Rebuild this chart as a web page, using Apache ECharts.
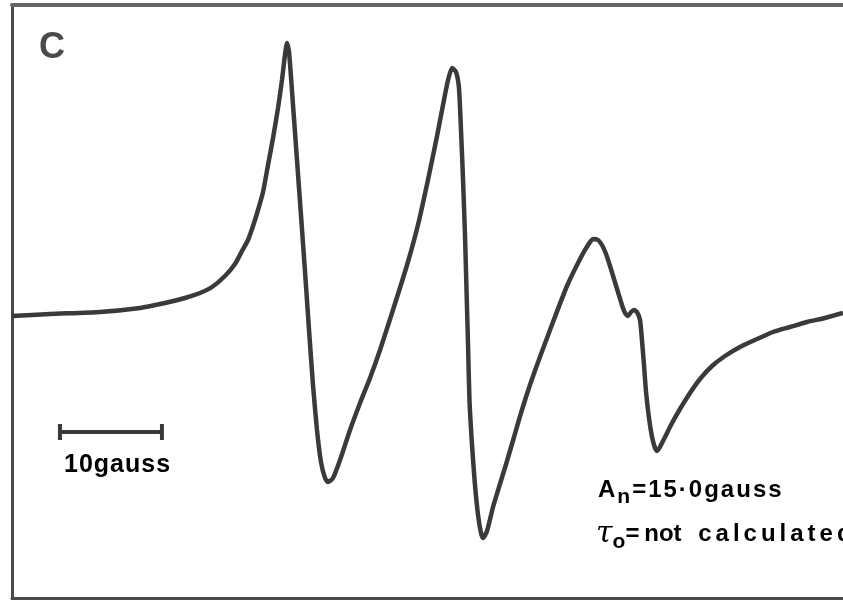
<!DOCTYPE html>
<html><head><meta charset="utf-8">
<script src="https://cdn.jsdelivr.net/npm/echarts@6/dist/echarts.min.js"></script>
<style>html,body{margin:0;padding:0;background:#fff}#c{width:843px;height:602px}</style>
</head><body><div id="c"></div>
<script>
// Magnetic field offset (gauss) and first-derivative EPR signal (arbitrary units)
const fieldG = [0, 3.73, 8.63, 12.55, 15.00, 16.96, 18.43, 19.61, 20.88, 21.86, 22.55, 23.14, 23.63, 24.12, 24.61, 25.10, 25.59, 26.08, 26.47, 26.76, 26.96, 27.16, 27.55, 27.94, 28.33, 28.73, 29.12, 29.51, 29.90, 30.29, 30.69, 30.98, 31.47, 32.16, 33.14, 34.12, 35.10, 36.08, 37.35, 38.73, 39.80, 40.78, 41.67, 42.35, 42.75, 43.14, 43.53, 43.82, 44.02, 44.22, 44.41, 44.56, 44.71, 44.85, 45.10, 45.39, 45.69, 45.98, 46.18, 46.57, 47.16, 47.84, 48.53, 49.22, 49.90, 50.78, 51.76, 53.04, 54.41, 55.69, 56.47, 56.96, 57.45, 57.84, 58.24, 58.63, 59.02, 59.41, 59.80, 60.10, 60.39, 60.69, 60.98, 61.27, 61.57, 61.76, 61.96, 62.16, 62.45, 62.75, 63.04, 63.24, 63.53, 64.02, 64.71, 65.49, 66.47, 67.45, 68.63, 69.90, 71.37, 73.04, 74.61, 76.27, 77.94, 79.71, 81.47];
const signal = [0, 2, 4, 8, 13, 18, 23, 29, 40, 52, 65, 76, 90, 106, 124, 151, 178, 208, 236, 261, 273, 264, 211, 156, 101, 44, -14, -69, -114, -146, -162, -166, -162, -144, -114, -87, -62, -34, 6, 51, 91, 136, 180, 216, 236, 248, 244, 228, 186, 136, 81, 26, -29, -84, -129, -169, -199, -217, -222, -215, -191, -168, -145, -121, -97, -69, -41, -6, 30, 57, 71, 77, 76, 71, 62, 50, 37, 24, 11, 3, 0, 4, 6, 4, -4, -24, -49, -76, -102, -121, -132, -135, -131, -121, -107, -93, -77, -63, -50, -40, -31, -23, -16, -11, -6, -2, 3];
// 10 gauss scale bar
const scaleBarG = [4.7, 14.7];
const scaleBarY = [-116, -116];

const chart = echarts.init(document.getElementById('c'));
const ink = '#3a3a3a';
const spaced = (s, style) => s.split('').map(c => `{${style}|${c}}`).join('');
chart.setOption({
  animation: false,
  backgroundColor: '#fff',
  grid: { left: 12, right: 0, top: 5, bottom: 4 },
  xAxis: [
    { type: 'value', min: 0, max: 81.47, position: 'bottom',
      axisLine: { show: true, onZero: false, lineStyle: { color: '#4a4a4a', width: 3 } },
      axisTick: { show: false }, axisLabel: { show: false }, splitLine: { show: false } },
    { type: 'value', min: 0, max: 81.47, position: 'top',
      axisLine: { show: true, onZero: false, lineStyle: { color: '#666', width: 4 } },
      axisTick: { show: false }, axisLabel: { show: false }, splitLine: { show: false } }
  ],
  yAxis: { type: 'value', min: -282, max: 311,
    axisLine: { show: true, onZero: false, lineStyle: { color: '#4a4a4a', width: 3 } },
    axisTick: { show: false }, axisLabel: { show: false }, splitLine: { show: false } },
  series: [
    { type: 'line', data: fieldG.map((x, i) => [x, signal[i]]), showSymbol: false, smooth: 0.2,
      lineStyle: { color: ink, width: 4.5 }, z: 3 },
    { type: 'line', data: scaleBarG.map((x, i) => [x, scaleBarY[i]]), symbol: 'rect', symbolSize: [4, 16],
      itemStyle: { color: ink }, lineStyle: { color: ink, width: 4 } }
  ],
  graphic: [
    { type: 'text', left: 39, top: 30, style: { text: 'C', font: 'bold 36px "Liberation Sans"', fill: '#4a4a4a' } },
    { type: 'text', left: 64, top: 453, style: {
        text: spaced('10gauss', 'w'),
        rich: { w: { font: 'bold 25px "Liberation Sans"', color: '#333', padding: [0, 1, 0, 0] } } } },
    { type: 'text', left: 598, top: 478, style: {
        text: '{w|A}{s|n}' + spaced('=15·0gauss', 'w'),
        rich: { w: { font: 'bold 24px "Liberation Sans"', color: '#333', padding: [0, 2, 0, 0] },
                s: { font: 'bold 21px "Liberation Sans"', color: '#333', padding: [14, 2, 0, 0] } } } },
    { type: 'text', left: 596, top: 519, style: {
        text: '{t|τ}{s|o}{a|=\u2009not }' + spaced('calculated', 'w'),
        rich: { t: { font: 'italic 30px "DejaVu Serif"', color: '#333' },
                s: { font: 'bold 21px "Liberation Sans"', color: '#333', padding: [16, 0, 0, 0] },
                a: { font: 'bold 24px "Liberation Sans"', color: '#333', padding: [0, 10, 0, 0] },
                w: { font: 'bold 24px "Liberation Sans"', color: '#333', padding: [0, 4, 0, 0] } } } }
  ]
});
</script>
</body></html>
